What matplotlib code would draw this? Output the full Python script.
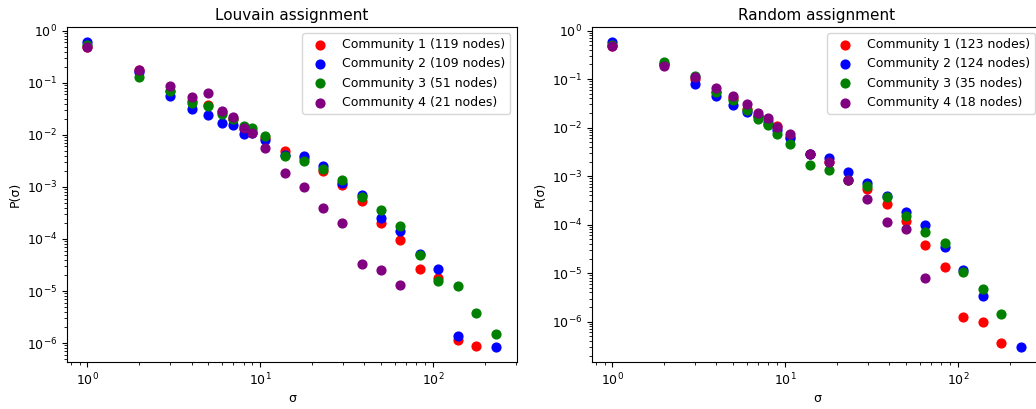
import numpy as np
import matplotlib
matplotlib.use("Agg")
import matplotlib.pyplot as plt

nan = np.nan

# log-binned degree centres shared by both panels
sigma = [1, 2, 3, 4, 5, 6, 7, 8, 9, 10.7, 13.9, 18.0, 23.2, 29.9, 38.6,
         49.7, 64.2, 83.8, 107, 139, 178, 232]

# Louvain communities
louvain_labels = ["Community 1 (119 nodes)", "Community 2 (109 nodes)",
                  "Community 3 (51 nodes)", "Community 4 (21 nodes)"]
louvain_c1 = [0.48, 0.175, 0.07, 0.045, 0.0376, 0.027, 0.02, 0.013, 0.012, 0.0088,
              0.00486, 0.0036, 0.002, 0.00108, 0.000535, 0.000202, 9.7e-5, 2.66e-5,
              1.81e-5, 1.16e-6, 8.7e-7, nan]
louvain_c2 = [0.605, 0.165, 0.055, 0.032, 0.024, 0.017, 0.0155, 0.0106, 0.011, 0.0081,
              0.0042, 0.0039, 0.0025, 0.0012, 0.0007, 0.000256, 0.000142, 5.2e-5,
              2.66e-5, 1.38e-6, nan, 8.5e-7]
louvain_c3 = [0.54, 0.129, 0.0687, 0.042, 0.0365, 0.0257, 0.02, 0.0146, 0.0136, 0.0096,
              0.0039, 0.00313, 0.00222, 0.00137, 0.00064, 0.000364, 0.000175, 4.9e-5,
              1.56e-5, 1.24e-5, 3.86e-6, 1.49e-6]
louvain_c4 = [0.48, 0.179, 0.088, 0.054, 0.065, 0.029, 0.0224, 0.0136, 0.011, 0.0055,
              0.00182, 0.00102, 0.000393, 0.000205, 3.27e-5, 2.54e-5, 1.29e-5,
              nan, nan, nan, nan, nan]

# Random communities
random_labels = ["Community 1 (123 nodes)", "Community 2 (124 nodes)",
                 "Community 3 (35 nodes)", "Community 4 (18 nodes)"]
random_c1 = [0.48, 0.2, 0.1, 0.055, 0.04, 0.024, 0.017, 0.0135, 0.0108, 0.0065,
             0.0028, 0.002, 0.00085, 0.000533, 0.000267, 0.00012, 3.85e-5, 1.32e-5,
             1.24e-6, 9.7e-7, 3.67e-7, nan]
random_c2 = [0.575, 0.2, 0.079, 0.0455, 0.029, 0.0207, 0.017, 0.012, 0.009, 0.0061,
             0.0028, 0.00231, 0.00119, 0.00071, 0.000396, 0.000186, 9.9e-5, 3.5e-5,
             1.18e-5, 3.4e-6, nan, 3.04e-7]
random_c3 = [0.5, 0.22, 0.118, 0.055, 0.0365, 0.0228, 0.0151, 0.0114, 0.0073, 0.0045,
             0.00169, 0.00133, 0.00085, 0.000635, 0.000366, 0.000151, 7.2e-5, 4.25e-5,
             1.06e-5, 4.73e-6, 1.41e-6, nan]
random_c4 = [0.47, 0.188, 0.11, 0.065, 0.044, 0.031, 0.02, 0.0158, 0.0103, 0.0073,
             0.00284, 0.00191, 0.00083, 0.000339, 0.000112, 8.3e-5, 7.9e-6,
             nan, nan, nan, nan, nan]

colors = ["red", "blue", "green", "purple"]

plt.rcParams.update({
    "font.size": 9,
    "axes.titlesize": 11,
    "axes.labelsize": 9,
    "xtick.labelsize": 9,
    "ytick.labelsize": 9,
    "legend.fontsize": 9,
})

fig = plt.figure(figsize=(10.36, 4.09), dpi=100)
ax1 = fig.add_axes([0.0647, 0.115, 0.434, 0.819])
ax2 = fig.add_axes([0.5714, 0.115, 0.434, 0.819])


def draw(ax, series, labels, title):
    for ys, lab, col in zip(series, labels, colors):
        ax.scatter(sigma, np.array(ys, dtype=float), s=40, color=col, label=lab)
    ax.set_xscale("log")
    ax.set_yscale("log")
    ax.set_title(title, pad=5)
    ax.set_xlabel("σ", labelpad=3)
    ax.set_ylabel("P(σ)")
    ax.legend(loc="upper right")


draw(ax1, [louvain_c1, louvain_c2, louvain_c3, louvain_c4], louvain_labels,
     "Louvain assignment")
draw(ax2, [random_c1, random_c2, random_c3, random_c4], random_labels,
     "Random assignment")

fig.savefig("out.png", dpi=100)
